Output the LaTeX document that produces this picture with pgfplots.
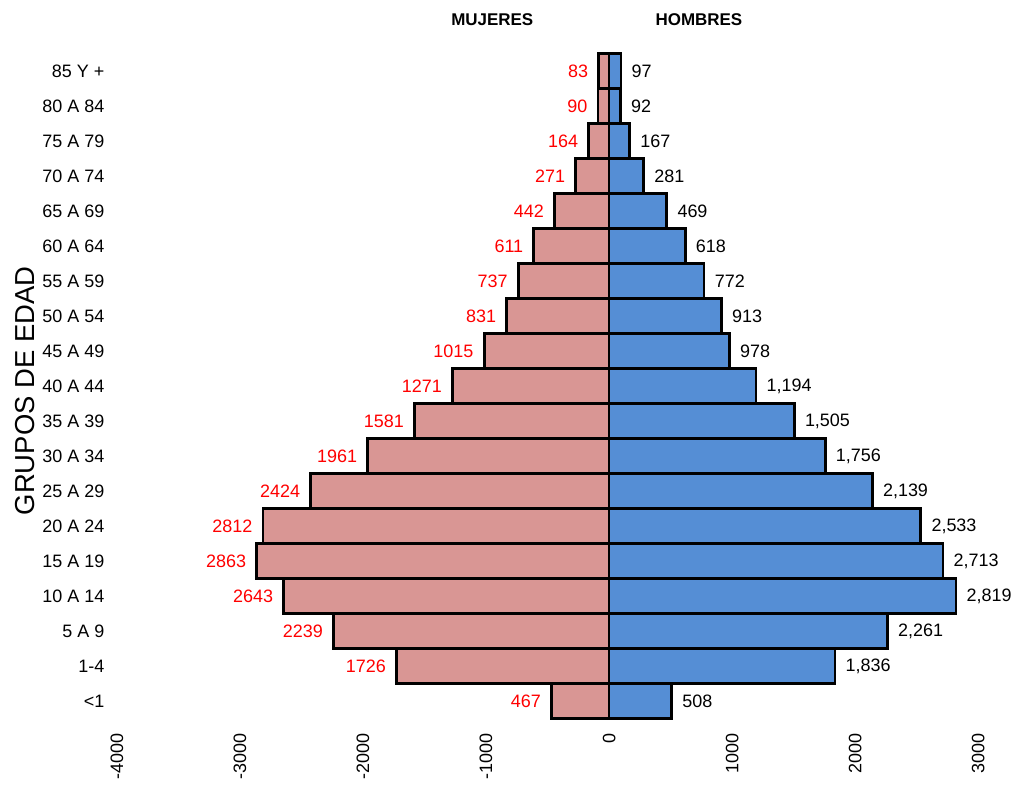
\documentclass[border=0pt]{standalone}
\usepackage{fontspec}
\setmainfont{Liberation Sans}
\usepackage{pgfplots}
\usepackage{pgfplotstable}
\pgfplotsset{compat=1.18}
\definecolor{fem}{HTML}{D99694}
\definecolor{masc}{HTML}{558ED5}
\newcommand\fs{\fontsize{18}{21}\selectfont}

\pgfplotstableread{
idx val lab
0 -467 467
1 -1726 1726
2 -2239 2239
3 -2643 2643
4 -2863 2863
5 -2812 2812
6 -2424 2424
7 -1961 1961
8 -1581 1581
9 -1271 1271
10 -1015 1015
11 -831 831
12 -737 737
13 -611 611
14 -442 442
15 -271 271
16 -164 164
17 -90 90
18 -83 83
}\women

\pgfplotstableread{
idx val lab
0 508 508
1 1836 1,836
2 2261 2,261
3 2819 2,819
4 2713 2,713
5 2533 2,533
6 2139 2,139
7 1756 1,756
8 1505 1,505
9 1194 1,194
10 978 978
11 913 913
12 772 772
13 618 618
14 469 469
15 281 281
16 167 167
17 92 92
18 97 97
}\men

\begin{document}
\begin{tikzpicture}
\begin{axis}[
  scale only axis,
  width=863pt, height=666pt,
  xmin=-4000, xmax=3000,
  ymin=-0.5, ymax=18.5,
  xbar, bar width=1, bar shift=0pt,
  axis line style={draw=none},
  major tick length=0pt,
  xtick={-4000,-3000,-2000,-1000,0,1000,2000,3000},
  xticklabels={-4000,-3000,-2000,-1000,0,1000,2000,3000},
  xticklabel style={rotate=90, anchor=east, font=\fs},
  xticklabel shift=11pt,
  ytick={0,1,...,18},
  yticklabels={<1,1-4,5 A 9,10 A 14,15 A 19,20 A 24,25 A 29,30 A 34,35 A 39,40 A 44,45 A 49,50 A 54,55 A 59,60 A 64,65 A 69,70 A 74,75 A 79,80 A 84,85 Y +},
  yticklabel style={font=\fs},
  yticklabel shift=9pt,
  ylabel={GRUPOS DE EDAD},
  ylabel style={at={(rel axis cs:-0.1066,0.493)}, anchor=center, font=\fontsize{27.5}{30}\selectfont},
  clip=false,
  nodes near coords,
  point meta=explicit symbolic,
]
\addplot[fill=fem, draw=black, line width=2.8pt,
  every node near coord/.append style={anchor=east, text=red, font=\fs, xshift=-6pt}]
  table[x=val, y=idx, meta=lab]{\women};
\addplot[fill=masc, draw=black, line width=2.8pt,
  every node near coord/.append style={anchor=west, text=black, font=\fs, xshift=6pt}]
  table[x=val, y=idx, meta=lab]{\men};
\node[font=\bfseries\fontsize{17}{20}\selectfont] at (axis cs:-949,18.5) [yshift=34pt] {MUJERES};
\node[font=\bfseries\fontsize{17}{20}\selectfont] at (axis cs:730,18.5) [yshift=34pt] {HOMBRES};
\path (rel axis cs:-0.1356,-0.0991) rectangle (rel axis cs:1.0406,1.081);
\end{axis}
\end{tikzpicture}
\end{document}
